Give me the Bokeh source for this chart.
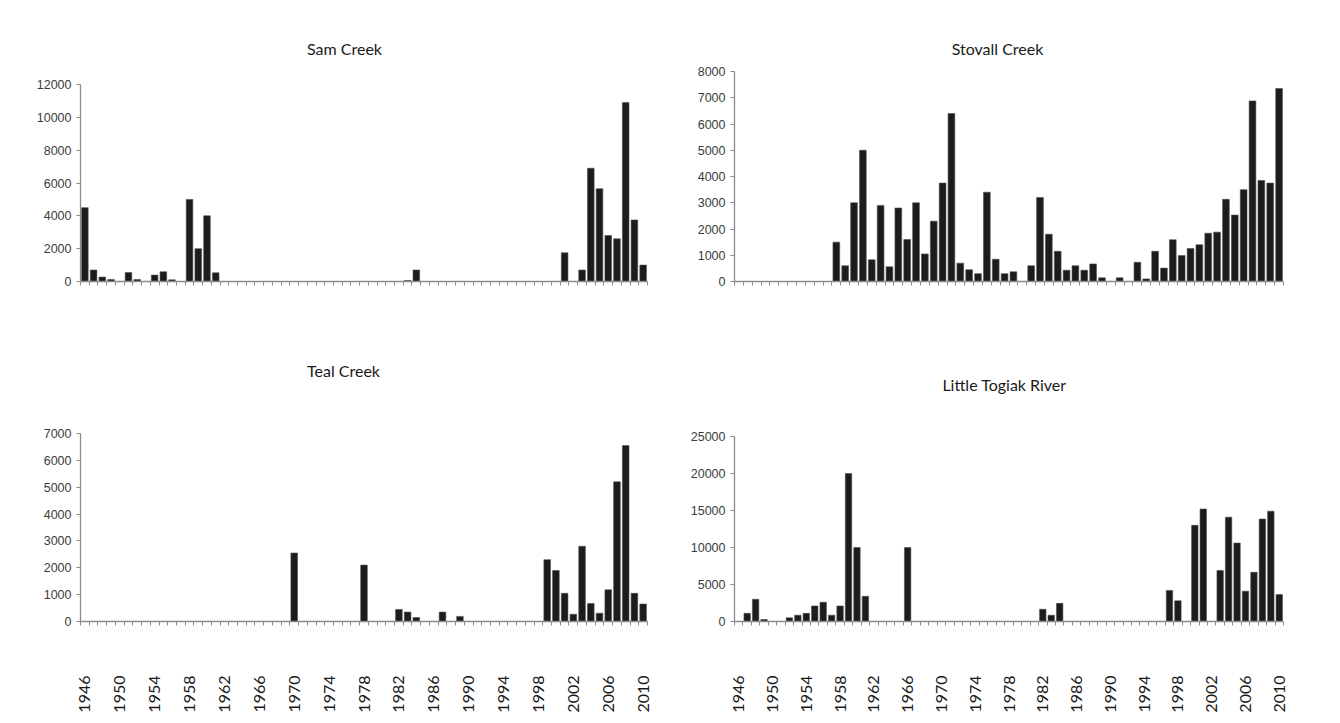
import math

from bokeh.plotting import figure
from bokeh.layouts import column, row
from bokeh.models import Range1d, FixedTicker
from bokeh.core.properties import value
from bokeh.embed import file_html
from bokeh.resources import INLINE

# Escapement counts per year for four streams
years = list(range(1946, 2011))
stovall_years = list(range(1949, 2011))
year_labels = list(range(1946, 2011, 4))

sam_creek = [
    4500, 700, 270, 120, 0, 550, 120, 0, 390, 590, 100, 0, 5000, 2000, 4000, 530,
    0, 0, 0, 0, 0, 0, 0, 0, 0, 0, 0, 0, 0, 0, 0, 0, 0, 0, 0, 0, 0,
    60, 700,
    0, 0, 0, 0, 0, 0, 0, 0, 0, 0, 0, 0, 0, 0, 0, 0,
    1750, 0, 700, 6900, 5650, 2800, 2600, 10900, 3750, 1000,
]

stovall_creek = [
    0, 0, 0, 0, 0, 0, 0, 0, 0, 0, 0,
    1500, 600, 3000, 5000, 830, 2900, 560, 2800, 1600, 3000, 1050, 2300, 3750,
    6400, 700, 450, 300, 3400, 850, 300, 370,
    0, 600, 3200, 1800, 1150, 430, 600, 430, 670, 140, 0, 140, 0, 730, 100,
    1150, 510, 1590, 990, 1260, 1400, 1840, 1880, 3130, 2530, 3500, 6880,
    3850, 3750, 7350,
]

teal_creek = [
    0, 0, 0, 0, 0, 0, 0, 0, 0, 0, 0, 0, 0, 0, 0, 0, 0, 0, 0, 0, 0, 0, 0, 0,
    2550,
    0, 0, 0, 0, 0, 0, 0,
    2100,
    0, 0, 0,
    450, 350, 150, 0, 0, 350, 0, 190,
    0, 0, 0, 0, 0, 0, 0, 0, 0,
    2300, 1900, 1050, 270, 2800, 670, 310, 1180, 5200, 6550, 1050, 650,
]

little_togiak = [
    0, 1100, 3000, 270, 0, 0, 500, 850, 1100, 2100, 2600, 850, 2100, 20000,
    10000, 3400,
    0, 0, 0, 0,
    10000,
    0, 0, 0, 0, 0, 0, 0, 0, 0, 0, 0, 0, 0, 0, 0,
    1650, 850, 2450,
    0, 0, 0, 0, 0, 0, 0, 0, 0, 0, 0, 0,
    4200, 2800, 0, 13000, 15200, 0, 6900, 14100, 10600, 4100, 6650, 13850,
    14900, 3650,
]

AXIS_GREY = "#8c8c8c"
BAR_FILL = "#1d1b1c"
PANEL_W = 670
TOP_PAD = 10


def panel(name, yrs, vals, ymax, ystep, height, left, right, bottom,
          zero_px, max_px, title_px, title_x_px, show_years):
    """One bar panel. Pixel arguments are measured from the panel's top/left."""
    frame_top = TOP_PAD
    # value scale: ymax sits at max_px, 0 sits at zero_px; frame reaches TOP_PAD
    per_px = ymax / (zero_px - max_px)
    y_end = per_px * (zero_px - frame_top)
    x0, x1 = yrs[0] - 0.5, yrs[-1] + 0.5
    frame_w = PANEL_W - left - right

    p = figure(width=PANEL_W, height=height, output_backend="svg",
               toolbar_location=None,
               x_range=Range1d(x0, x1), y_range=Range1d(0, y_end),
               min_border_left=left, min_border_right=right,
               min_border_top=frame_top, min_border_bottom=bottom)
    p.vbar(x=yrs, top=vals, width=0.76, fill_color=BAR_FILL,
           line_color="#4d4d4d", line_width=0.6)

    # panel heading, placed in the empty band above the bars
    tx = x0 + (title_x_px - left) / frame_w * (x1 - x0)
    ty = per_px * (zero_px - title_px)
    p.text(x=[tx], y=[ty], text=[name], text_font=value("Lato"),
           text_font_size="16px", text_color="#1a1a1a",
           text_align="center", text_baseline="middle")

    p.outline_line_color = None
    p.xgrid.grid_line_color = None
    p.ygrid.grid_line_color = None
    p.background_fill_color = "white"
    p.border_fill_color = "white"

    # category boundaries carry the small x ticks; label years are major ticks
    bounds = [y - 0.5 for y in yrs] + [yrs[-1] + 0.5]
    xa = p.xaxis[0]
    xa.ticker = FixedTicker(ticks=year_labels if show_years else [],
                            minor_ticks=bounds)
    xa.axis_line_color = AXIS_GREY
    xa.axis_line_width = 1.3
    xa.major_tick_out = 0
    xa.major_tick_in = 0
    xa.minor_tick_out = 4
    xa.minor_tick_in = 0
    xa.minor_tick_line_color = AXIS_GREY
    xa.major_label_orientation = math.pi / 2
    xa.major_label_standoff = 50
    xa.major_label_text_font = "Lato"
    xa.major_label_text_font_size = "16px"
    xa.major_label_text_color = "#1a1a1a"

    ya = p.yaxis[0]
    ya.ticker = FixedTicker(ticks=list(range(0, ymax + 1, ystep)))
    ya.bounds = (0, ymax)
    ya.axis_line_color = AXIS_GREY
    ya.axis_line_width = 1.3
    ya.major_tick_out = 4
    ya.major_tick_in = 0
    ya.major_tick_line_color = AXIS_GREY
    ya.minor_tick_line_color = None
    ya.major_label_standoff = 5
    ya.major_label_text_font = "Liberation Sans"
    ya.major_label_text_font_size = "12.5px"
    ya.major_label_text_color = "#3c3c3c"
    return p


p_sam = panel("Sam Creek", years, sam_creek, 12000, 2000, 345,
              80, 23, 64, 281, 84, 48, 344, False)
p_stovall = panel("Stovall Creek", stovall_years, stovall_creek, 8000, 1000,
                  345, 64, 57, 64, 281, 71, 48, 997 - PANEL_W, False)
p_teal = panel("Teal Creek", years, teal_creek, 7000, 1000, 378,
               80, 23, 102, 621 - 345, 433 - 345, 370 - 345, 343, True)
p_togiak = panel("Little Togiak River", years, little_togiak, 25000, 5000,
                 378, 64, 57, 102, 621 - 345, 436 - 345, 384 - 345,
                 1004 - PANEL_W, True)

layout = column(row(p_sam, p_stovall), row(p_teal, p_togiak))

open("out.html", "w").write(file_html(layout, INLINE))
